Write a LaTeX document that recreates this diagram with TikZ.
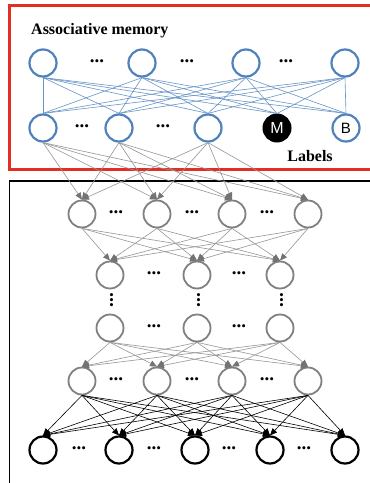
\documentclass[tikz,border=0pt]{standalone}
\usepackage{fontspec}
\setmainfont{Liberation Serif}
\newfontfamily\arialfont{Liberation Sans}
\usetikzlibrary{arrows.meta}
\definecolor{amblue}{RGB}{79,129,189}
\definecolor{amred}{RGB}{226,46,36}
\definecolor{nngray}{RGB}{128,128,128}
\definecolor{linegray}{RGB}{150,150,150}
\definecolor{tipgray}{RGB}{115,115,115}
\tikzset{
  bnode/.style={circle, draw=amblue, line width=2.2pt, minimum size=27pt, inner sep=0pt},
  mnode/.style={circle, draw=black, fill=black, line width=2pt, minimum size=27pt, inner sep=0pt, text=white, font=\arialfont\fontsize{16}{16}\selectfont},
  gnode/.style={circle, draw=nngray, line width=1.8pt, minimum size=27pt, inner sep=0pt},
  knode/.style={circle, draw=black, line width=2.2pt, minimum size=27pt, inner sep=0pt},
  dotsnode/.style={font=\fontsize{19}{19}\selectfont\bfseries, inner sep=0pt},
  bline/.style={draw=amblue!85, line width=0.6pt},
  garrow/.style={draw=linegray, line width=0.6pt, -{Triangle[length=7pt,width=6pt,color=tipgray]}},
  karrow/.style={draw=black, line width=0.6pt, -{Triangle[length=7pt,width=6pt]}},
  title/.style={font=\bfseries\fontsize{16}{16}\selectfont, inner sep=0pt}
}
\begin{document}
\begin{tikzpicture}[x=1pt,y=-1pt]
\useasboundingbox (0,0) rectangle (370,483);
\clip (0,0) rectangle (370,483);
\fill[white] (0,0) rectangle (370,483);
% frames
\draw[amred, line width=3pt] (9.5,5.5) rectangle (390,169.5);
\draw[black, line width=1.6pt] (9.5,181) rectangle (390,500);
% texts
\node[title, anchor=west] (amtitle) at (31,31) {Associative memory};
\node[title] (labels) at (310,156) {Labels};
% top row
\foreach \i/\x in {1/43,2/142,3/246,4/345} \node[bnode] (t\i) at (\x,63) {};
\foreach \i/\x in {1/97,2/187,3/286} \node[dotsnode] (tdots\i) at (\x,61) {...};
% second row
\foreach \i/\x in {1/43,2/119,3/208} \node[bnode] (s\i) at (\x,128) {};
\node[mnode] (m) at (277,128) {M};
\node[bnode, font=\arialfont\fontsize{15}{15}\selectfont] (b) at (346,128) {B};
\foreach \i/\x in {1/82,2/163} \node[dotsnode] (sdots\i) at (\x,126) {...};
% gray layer 1
\foreach \i/\x in {1/82,2/157,3/232,4/308} \node[gnode] (a\i) at (\x,214) {};
\foreach \i/\x in {1/116,2/192,3/267} \node[dotsnode] (adots\i) at (\x,212) {...};
% gray layer 2
\foreach \i/\x in {1/110,2/197,3/280} \node[gnode] (c\i) at (\x,275) {};
\foreach \i/\x in {1/154,2/239} \node[dotsnode] (cdots\i) at (\x,273) {...};
% vertical dots
\foreach \i/\x in {1/110,2/197,3/280} \node[dotsnode, rotate=90] (vdots\i) at (\x+1.5,300) {...};
% gray layer 3
\foreach \i/\x in {1/110,2/197,3/280} \node[gnode] (d\i) at (\x,328) {};
\foreach \i/\x in {1/154,2/239} \node[dotsnode] (ddots\i) at (\x,326) {...};
% gray layer 4
\foreach \i/\x in {1/82,2/157,3/232,4/308} \node[gnode] (e\i) at (\x,381) {};
\foreach \i/\x in {1/116,2/192,3/267} \node[dotsnode] (edots\i) at (\x,379) {...};
% bottom black layer
\foreach \i/\x in {1/43,2/119,3/195,4/270,5/345} \node[knode] (f\i) at (\x,450) {};
\foreach \i/\x in {1/79,2/154,3/229,4/304} \node[dotsnode] (fdots\i) at (\x,448) {...};
% connections
\foreach \i in {1,2,3,4} {
  \foreach \j in {s1,s2,s3,m,b} \draw[bline] (t\i.south) -- (\j.north);
}
\foreach \i in {1,2,3} {
  \foreach \j in {1,2,3,4} \draw[garrow] (s\i.south) -- (a\j.north);
}
\foreach \i in {1,2,3,4} {
  \foreach \j in {1,2,3} \draw[garrow] (a\i.south) -- (c\j.north);
}
\foreach \i in {1,2,3} {
  \foreach \j in {1,2,3,4} \draw[garrow] (d\i.south) -- (e\j.north);
}
\foreach \i in {1,2,3,4} {
  \foreach \j in {1,2,3,4,5} \draw[karrow] (e\i.south) -- (f\j.north);
}
\end{tikzpicture}
\end{document}
